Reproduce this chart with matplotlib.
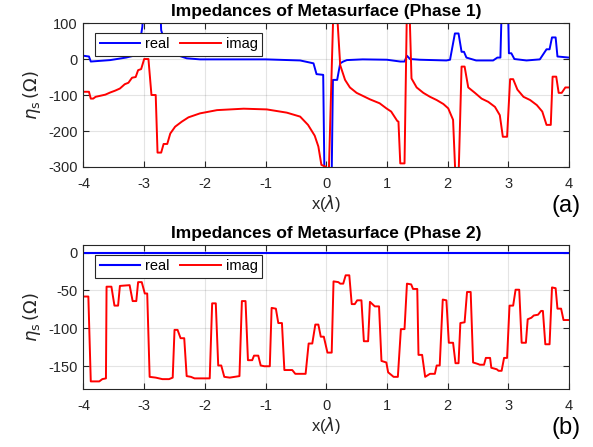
import matplotlib
matplotlib.use("Agg")
import matplotlib.pyplot as plt

# phase 1 surface impedance, breakpoints along x (in wavelengths)
x1_real = [-4.00, -3.91, -3.88, -3.80, -3.56, -3.30, -3.10, -3.03, -2.98, -2.76,
           -2.72, -2.62, -2.46, -2.30, -2.08, -1.00, -0.43, -0.21, -0.16, -0.05,
           -0.03, 0.09, 0.11, 0.18, 0.23, 0.28, 0.34, 0.60, 1.00, 1.22,
           1.29, 1.33, 1.38, 1.54, 1.98, 2.04, 2.12, 2.18, 2.23, 2.27,
           2.31, 2.47, 2.75, 2.82, 2.87, 2.90, 2.99, 3.01, 3.05, 3.10,
           3.30, 3.52, 3.63, 3.68, 3.72, 3.78, 3.81, 4.00]
real1 = [9, 7, -7, -6, -3, 4, 12, 90, 250, 250,
         80, 25, 11, 2, -1, -1, -4, -12, -42, -44,
         -320, -320, -58, -58, -12, -7, -3, -1, -2, -7,
         -7, 9, 0, -2, -4, -2, 71, 71, 20, 20,
         4, -4, -4, 4, 4, 200, 200, 16, 16, 0,
         -4, -1, 27, 27, 60, 60, 7, 4]

x1_imag = [-4.00, -3.91, -3.88, -3.84, -3.80, -3.72, -3.64, -3.56, -3.48, -3.40,
           -3.32, -3.26, -3.20, -3.14, -3.10, -3.05, -3.00, -2.93, -2.88, -2.81,
           -2.78, -2.72, -2.68, -2.62, -2.57, -2.49, -2.38, -2.27, -2.08, -1.80,
           -1.36, -0.98, -0.65, -0.43, -0.30, -0.19, -0.13, -0.08, 0.00, 0.04,
           0.12, 0.17, 0.23, 0.31, 0.39, 0.50, 0.61, 0.72, 0.88, 0.99,
           1.07, 1.17, 1.19, 1.22, 1.29, 1.33, 1.37, 1.405, 1.49, 1.60,
           1.71, 1.82, 1.93, 2.01, 2.09, 2.13, 2.18, 2.23, 2.28, 2.34,
           2.45, 2.56, 2.67, 2.78, 2.86, 2.91, 2.98, 3.03, 3.08, 3.15,
           3.25, 3.36, 3.47, 3.56, 3.63, 3.70, 3.73, 3.79, 3.83, 3.88,
           3.94, 4.00]
imag1 = [-91, -91, -110, -110, -105, -102, -99, -93, -88, -82,
         -70, -66, -52, -50, -31, -28, 0, 0, -100, -100,
         -260, -260, -236, -236, -207, -188, -174, -162, -151, -142,
         -138, -140, -149, -160, -183, -213, -243, -294, -300, -330,
         150, 150, -17, -58, -79, -94, -103, -112, -123, -137,
         -146, -172, -174, -290, -290, 150, 150, -54, -79, -94,
         -105, -114, -125, -137, -169, -330, -330, -21, -21, -79,
         -94, -110, -119, -133, -156, -216, -216, -56, -56, -85,
         -105, -114, -128, -146, -183, -183, -49, -49, -94, -94,
         -79, -79]

# phase 2 surface impedance
x2_real = [-4.0, 4.0]
real2 = [0, 0]

x2_imag = [-4.00, -3.92, -3.88, -3.74, -3.69, -3.63, -3.62, -3.54, -3.49, -3.43,
           -3.40, -3.24, -3.19, -3.13, -3.10, -3.04, -2.99, -2.95, -2.91, -2.81,
           -2.70, -2.59, -2.53, -2.50, -2.45, -2.40, -2.34, -2.30, -2.23, -2.17,
           -1.92, -1.88, -1.82, -1.78, -1.73, -1.68, -1.59, -1.51, -1.43, -1.39,
           -1.33, -1.29, -1.22, -1.19, -1.12, -1.08, -1.02, -0.93, -0.90, -0.83,
           -0.79, -0.73, -0.69, -0.56, -0.51, -0.34, -0.29, -0.23, -0.18, -0.13,
           -0.09, -0.04, 0.02, 0.09, 0.12, 0.20, 0.23, 0.28, 0.32, 0.38,
           0.42, 0.47, 0.51, 0.58, 0.62, 0.69, 0.72, 0.80, 0.87, 0.91,
           0.99, 1.02, 1.11, 1.18, 1.23, 1.29, 1.33, 1.40, 1.43, 1.50,
           1.52, 1.58, 1.63, 1.71, 1.79, 1.82, 1.87, 1.92, 1.98, 2.02,
           2.09, 2.13, 2.18, 2.21, 2.28, 2.32, 2.38, 2.42, 2.50, 2.53,
           2.60, 2.63, 2.70, 2.72, 2.81, 2.84, 2.89, 2.93, 2.98, 3.02,
           3.08, 3.12, 3.18, 3.22, 3.29, 3.32, 3.38, 3.42, 3.49, 3.54,
           3.57, 3.61, 3.68, 3.72, 3.78, 3.81, 3.87, 3.91, 4.00]
imag2 = [-58, -58, -170, -170, -167, -166, -45, -45, -70, -70,
         -44, -43, -64, -64, -39, -39, -54, -54, -164, -165,
         -167, -167, -165, -102, -102, -113, -113, -163, -164, -166,
         -166, -67, -67, -149, -149, -164, -165, -164, -163, -64,
         -64, -142, -142, -136, -136, -149, -150, -150, -73, -74,
         -93, -93, -155, -155, -160, -160, -120, -120, -95, -95,
         -111, -111, -132, -132, -38, -39, -41, -41, -30, -30,
         -68, -68, -63, -63, -117, -117, -65, -71, -71, -143,
         -145, -158, -164, -164, -101, -101, -41, -42, -48, -48,
         -135, -135, -164, -160, -160, -149, -149, -62, -63, -119,
         -119, -146, -146, -93, -92, -52, -52, -145, -147, -148,
         -148, -139, -139, -152, -154, -156, -156, -139, -139, -70,
         -70, -49, -49, -119, -119, -88, -86, -83, -82, -77,
         -77, -121, -121, -46, -47, -74, -74, -89, -89]

titles = ["Impedances of Metasurface (Phase 1)", "Impedances of Metasurface (Phase 2)"]
panel_tags = ["(a)", "(b)"]

plt.rcParams["font.family"] = ["Liberation Sans", "DejaVu Sans"]
plt.rcParams["axes.unicode_minus"] = False
ink = (0.15, 0.15, 0.15)

fig = plt.figure(figsize=(5.93, 4.47), dpi=100)
ax1 = fig.add_axes([0.1408, 0.6264, 0.8187, 0.3221])
ax2 = fig.add_axes([0.1408, 0.1298, 0.8187, 0.3221])

ax1.plot(x1_real, real1, color="#0000ff", lw=1.4, label="real")
ax1.plot(x1_imag, imag1, color="#ff0000", lw=1.4, label="imag")
ax1.set_ylim(-300, 100)
ax1.set_yticks([-300, -200, -100, 0, 100])

ax2.plot(x2_real, real2, color="#0000ff", lw=1.5, label="real")
ax2.plot(x2_imag, imag2, color="#ff0000", lw=1.4, label="imag")
ax2.set_ylim(-180, 10)
ax2.set_yticks([-150, -100, -50, 0])

for ax, title, tag in zip([ax1, ax2], titles, panel_tags):
    ax.set_xlim(-4, 4)
    ax.set_xticks(range(-4, 5))
    ax.grid(True, color=ink, alpha=0.12, lw=0.8)
    ax.tick_params(direction="in", length=4, width=0.8, colors=ink,
                   top=True, right=True, labelsize=10.5)
    ax.tick_params(axis="x", pad=7)
    ax.tick_params(axis="y", pad=4)
    for s in ax.spines.values():
        s.set_color(ink)
        s.set_linewidth(0.8)
    ax.set_title(title, fontsize=12.5, fontweight="bold", pad=5)
    ax.set_xlabel(r"x($\lambda$)", fontsize=12, color=ink, labelpad=2)
    ax.set_ylabel(r"$\eta_{\mathrm{s}}\,(\Omega)$", fontsize=13, color=ink, labelpad=4)
    leg = ax.legend(loc="upper left", bbox_to_anchor=(0.024, 0.93), ncol=2,
                    borderaxespad=0, handlelength=2.8, columnspacing=0.7,
                    handletextpad=0.35, fancybox=False, framealpha=1,
                    borderpad=0.3, fontsize=10.5)
    leg.get_frame().set_edgecolor(ink)
    leg.get_frame().set_linewidth(0.8)
    ax.text(1.023, -0.27, tag, transform=ax.transAxes, fontsize=17,
            ha="right", va="center", color="black")

fig.savefig("out.png", dpi=100)
